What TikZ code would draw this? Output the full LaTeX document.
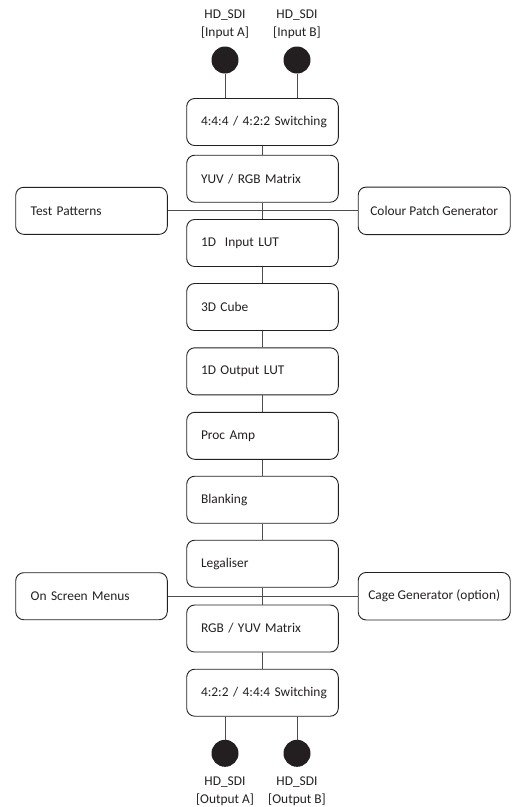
\documentclass[tikz,border=0pt]{standalone}
\usepackage{fontspec}
\setmainfont{Carlito}
\definecolor{ink}{HTML}{231F20}
\definecolor{wire}{HTML}{4D4D4D}
\begin{document}
\begin{tikzpicture}[x=1pt,y=-1pt,
  every node/.style={font=\fontsize{13.4}{17.5}\selectfont, text=ink},
  stage/.style={draw=ink, line width=0.9pt, rounded corners=8pt,
    minimum height=47pt, text width=123pt, inner xsep=14.3pt, align=left},
  side/.style={stage, text width=121.6pt, inner xsep=15pt},
  sider/.style={draw=ink, line width=0.9pt, rounded corners=8pt,
    minimum height=47.5pt, minimum width=152pt, inner xsep=4pt},
  jack/.style={circle, fill=ink, minimum size=27pt, inner sep=0pt},
  port/.style={align=center, inner sep=0pt},
  link/.style={draw=wire, line width=0.9pt}]
  \useasboundingbox (0,0) rectangle (516,807);
  \node[port] (lin0) at (225,24) {HD\_SDI\\{}[Input A]};
  \node[port] (lin1) at (297,24) {HD\_SDI\\{}[Input B]};
  \node[jack] (in0) at (225,60) {};
  \node[jack] (in1) at (297,60) {};
  \node[stage] (b0) at (262.5,122) {\mbox{4:4:4 / 4:2:2 Switching}};
  \node[stage] (b1) at (262.5,178.7) {YUV / RGB Matrix};
  \node[stage] (b2) at (262.5,243) {1D\ \ Input LUT};
  \node[stage] (b3) at (262.5,307) {3D Cube};
  \node[stage] (b4) at (262.5,371.3) {1D Output LUT};
  \node[stage] (b5) at (262.5,435.8) {Proc Amp};
  \node[stage] (b6) at (262.5,499.7) {Blanking};
  \node[stage] (b7) at (262.5,563.7) {Legaliser};
  \node[stage] (b8) at (262.5,628.5) {RGB / YUV Matrix};
  \node[stage] (b9) at (262.5,692.7) {\mbox{4:2:2 / 4:4:4 Switching}};
  \node[side] (tp) at (91.5,210.8) {Test Patterns};
  \node[sider] (cp) at (434.2,210.8) {Colour Patch Generator};
  \node[side] (osm) at (91.5,596.2) {On Screen Menus};
  \node[sider] (cage) at (434.2,596.2) {Cage Generator (option)};
  \node[jack] (out0) at (225,753.3) {};
  \node[jack] (out1) at (297,753.3) {};
  \node[port] (lout0) at (225,791.3) {HD\_SDI\\{}[Output A]};
  \node[port] (lout1) at (297,791.3) {HD\_SDI\\{}[Output B]};
  \draw[link] (in0) -- (in0 |- b0.north);
  \draw[link] (in1) -- (in1 |- b0.north);
  \draw[link] (b0) -- (b1);
  \draw[link] (b1) -- (b2);
  \draw[link] (b2) -- (b3);
  \draw[link] (b3) -- (b4);
  \draw[link] (b4) -- (b5);
  \draw[link] (b5) -- (b6);
  \draw[link] (b6) -- (b7);
  \draw[link] (b7) -- (b8);
  \draw[link] (b8) -- (b9);
  \draw[link] (tp) -- (cp);
  \draw[link] (osm) -- (cage);
  \draw[link] (out0) -- (out0 |- b9.south);
  \draw[link] (out1) -- (out1 |- b9.south);
\end{tikzpicture}
\end{document}
